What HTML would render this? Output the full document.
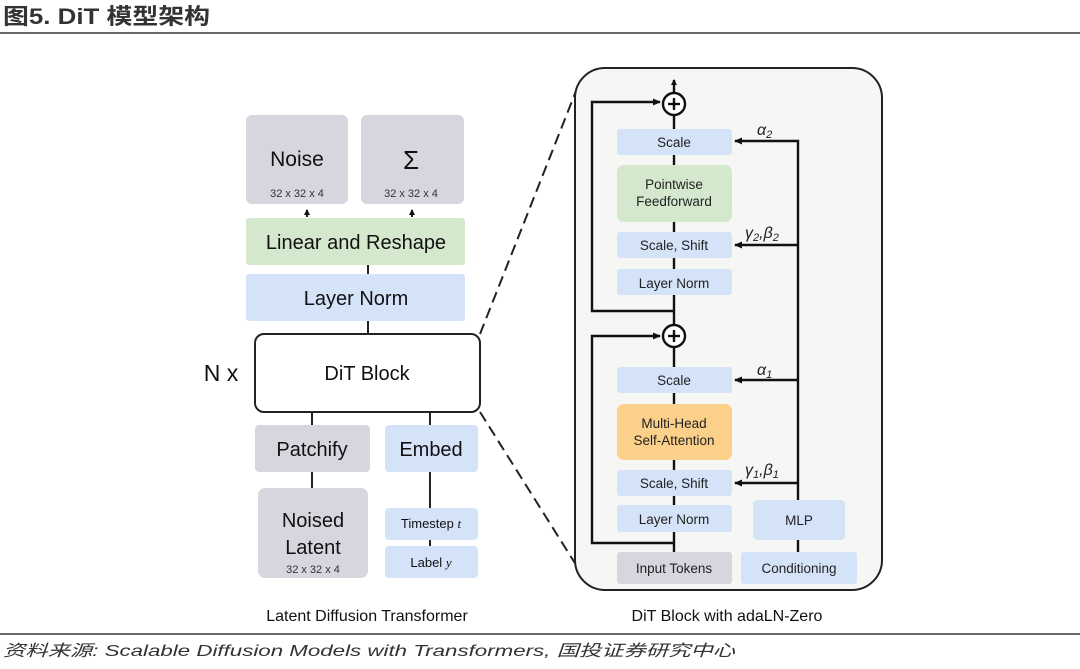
<!DOCTYPE html>
<html><head><meta charset="utf-8"><style>
html,body{margin:0;padding:0;background:#fff;}
svg{display:block;}
text{font-family:"Liberation Sans","Noto Sans CJK SC",sans-serif;}
</style></head><body>
<svg width="1080" height="669" viewBox="0 0 1080 669" xmlns="http://www.w3.org/2000/svg">
<defs>
<marker id="ah" markerWidth="8" markerHeight="8" refX="7" refY="4" orient="auto" markerUnits="userSpaceOnUse">
<path d="M0,0.5 L8,4 L0,7.5 z" fill="#111"/></marker>
<marker id="as" markerWidth="6" markerHeight="6" refX="5" refY="3" orient="auto" markerUnits="userSpaceOnUse">
<path d="M0,0 L6,3 L0,6 z" fill="#111"/></marker>
</defs>
<!-- header -->
<text x="3" y="24" font-size="22" font-weight="bold" fill="#333" textLength="207" lengthAdjust="spacingAndGlyphs">图5. DiT 模型架构</text>
<rect x="0" y="32" width="1080" height="2" fill="#6a6a6a"/>
<!-- footer -->
<rect x="0" y="633" width="1080" height="2" fill="#6a6a6a"/>
<text x="3" y="656" font-size="16" font-style="italic" fill="#333" font-family="'Liberation Mono','Noto Sans CJK SC',monospace" textLength="732" lengthAdjust="spacingAndGlyphs">资料来源: Scalable Diffusion Models with Transformers, 国投证券研究中心</text>

<!-- LEFT -->
<g stroke="#222" stroke-width="2">
<line x1="307" y1="217" x2="307" y2="210" marker-end="url(#as)"/>
<line x1="412" y1="217" x2="412" y2="210" marker-end="url(#as)"/>
<line x1="368" y1="265" x2="368" y2="274"/>
<line x1="368" y1="321" x2="368" y2="333"/>
<line x1="312" y1="412" x2="312" y2="425"/>
<line x1="430" y1="412" x2="430" y2="425"/>
<line x1="312" y1="472" x2="312" y2="488"/>
<line x1="430" y1="472" x2="430" y2="508"/>
<line x1="430" y1="540" x2="430" y2="546"/>
</g>
<rect x="246" y="115" width="102" height="89" rx="6" fill="#d6d6de"/>
<rect x="361" y="115" width="103" height="89" rx="6" fill="#d6d6de"/>
<text x="297" y="166" font-size="21" text-anchor="middle" fill="#111">Noise</text>
<text x="297" y="197" font-size="11" text-anchor="middle" fill="#333">32 x 32 x 4</text>
<text x="411" y="169" font-size="26" text-anchor="middle" fill="#111" font-family="'Liberation Serif',serif">Σ</text>
<text x="411" y="197" font-size="11" text-anchor="middle" fill="#333">32 x 32 x 4</text>
<rect x="246" y="218" width="219" height="47" rx="3" fill="#d3e8cc"/>
<text x="356" y="249" font-size="20" text-anchor="middle" fill="#111">Linear and Reshape</text>
<rect x="246" y="274" width="219" height="47" rx="3" fill="#d4e3f8"/>
<text x="356" y="305" font-size="20" text-anchor="middle" fill="#111">Layer Norm</text>
<rect x="255" y="334" width="225" height="78" rx="9" fill="#fff" stroke="#222" stroke-width="2"/>
<text x="367" y="380" font-size="20" text-anchor="middle" fill="#111">DiT Block</text>
<text x="221" y="381" font-size="23" text-anchor="middle" fill="#111">N x</text>
<rect x="255" y="425" width="115" height="47" rx="4" fill="#d6d6de"/>
<text x="312" y="456" font-size="20" text-anchor="middle" fill="#111">Patchify</text>
<rect x="385" y="425" width="93" height="47" rx="4" fill="#d4e3f8"/>
<text x="431" y="456" font-size="20" text-anchor="middle" fill="#111">Embed</text>
<rect x="258" y="488" width="110" height="90" rx="7" fill="#d6d6de"/>
<text x="313" y="527" font-size="20" text-anchor="middle" fill="#111">Noised</text>
<text x="313" y="554" font-size="20" text-anchor="middle" fill="#111">Latent</text>
<text x="313" y="573" font-size="11" text-anchor="middle" fill="#333">32 x 32 x 4</text>
<rect x="385" y="508" width="93" height="32" rx="4" fill="#d4e3f8"/>
<text x="431" y="528" font-size="13" text-anchor="middle" fill="#111">Timestep <tspan font-style="italic" font-family="'Liberation Serif',serif">t</tspan></text>
<rect x="385" y="546" width="93" height="32" rx="4" fill="#d4e3f8"/>
<text x="431" y="567" font-size="13" text-anchor="middle" fill="#111">Label <tspan font-style="italic" font-family="'Liberation Serif',serif">y</tspan></text>
<text x="367" y="621" font-size="16" text-anchor="middle" fill="#111">Latent Diffusion Transformer</text>

<!-- dashed -->
<line x1="480" y1="334" x2="578" y2="86" stroke="#222" stroke-width="2" stroke-dasharray="11,6"/>
<line x1="480" y1="412" x2="578" y2="568" stroke="#222" stroke-width="2" stroke-dasharray="11,6"/>

<!-- RIGHT container -->
<rect x="575" y="68" width="307" height="522" rx="30" fill="#f6f6f4" stroke="#222" stroke-width="2"/>
<text x="727" y="621" font-size="16" text-anchor="middle" fill="#111">DiT Block with adaLN-Zero</text>

<g stroke="#111" stroke-width="2.4" fill="none">
<line x1="674" y1="93" x2="674" y2="80" marker-end="url(#as)"/>
<line x1="674" y1="115" x2="674" y2="129"/>
<line x1="674" y1="155" x2="674" y2="165"/>
<line x1="674" y1="222" x2="674" y2="232"/>
<line x1="674" y1="258" x2="674" y2="269"/>
<line x1="674" y1="295" x2="674" y2="325"/>
<line x1="674" y1="347" x2="674" y2="367"/>
<line x1="674" y1="393" x2="674" y2="404"/>
<line x1="674" y1="460" x2="674" y2="470"/>
<line x1="674" y1="496" x2="674" y2="505"/>
<line x1="674" y1="532" x2="674" y2="552"/>
<polyline points="674,311 592,311 592,102 660,102" marker-end="url(#ah)"/>
<polyline points="674,543 592,543 592,336 660,336" marker-end="url(#ah)"/>
<line x1="798" y1="552" x2="798" y2="540"/>
<polyline points="798,500 798,141 735,141" marker-end="url(#ah)"/>
<line x1="798" y1="245" x2="735" y2="245" marker-end="url(#ah)"/>
<line x1="798" y1="380" x2="735" y2="380" marker-end="url(#ah)"/>
<line x1="798" y1="483" x2="735" y2="483" marker-end="url(#ah)"/>
<circle cx="674" cy="104" r="11" fill="#fff"/>
<line x1="668" y1="104" x2="680" y2="104"/><line x1="674" y1="98" x2="674" y2="110"/>
<circle cx="674" cy="336" r="11" fill="#fff"/>
<line x1="668" y1="336" x2="680" y2="336"/><line x1="674" y1="330" x2="674" y2="342"/>
</g>
<g font-size="13.5" text-anchor="middle" fill="#222">
<rect x="617" y="129" width="115" height="26" rx="3" fill="#d4e3f8"/>
<text x="674" y="147">Scale</text>
<rect x="617" y="165" width="115" height="57" rx="7" fill="#d3e8cc"/>
<text x="674" y="189">Pointwise</text><text x="674" y="206">Feedforward</text>
<rect x="617" y="232" width="115" height="26" rx="3" fill="#d4e3f8"/>
<text x="674" y="250">Scale, Shift</text>
<rect x="617" y="269" width="115" height="26" rx="3" fill="#d4e3f8"/>
<text x="674" y="288">Layer Norm</text>
<rect x="617" y="367" width="115" height="26" rx="3" fill="#d4e3f8"/>
<text x="674" y="385">Scale</text>
<rect x="617" y="404" width="115" height="56" rx="7" fill="#fbd08a"/>
<text x="674" y="428">Multi-Head</text><text x="674" y="445">Self-Attention</text>
<rect x="617" y="470" width="115" height="26" rx="3" fill="#d4e3f8"/>
<text x="674" y="488">Scale, Shift</text>
<rect x="617" y="505" width="115" height="27" rx="3" fill="#d4e3f8"/>
<text x="674" y="524">Layer Norm</text>
<rect x="753" y="500" width="92" height="40" rx="4" fill="#d4e3f8"/>
<text x="799" y="525">MLP</text>
<rect x="617" y="552" width="115" height="32" rx="3" fill="#d6d6de"/>
<text x="674" y="573">Input Tokens</text>
<rect x="741" y="552" width="116" height="32" rx="3" fill="#d4e3f8"/>
<text x="799" y="573">Conditioning</text>
</g>
<g font-family="'Liberation Serif',serif" font-style="italic" font-size="16" fill="#222">
<text x="757" y="135">α<tspan font-size="11" dy="3">2</tspan></text>
<text x="745" y="238">γ<tspan font-size="11" dy="3">2</tspan><tspan dy="-3">,β</tspan><tspan font-size="11" dy="3">2</tspan></text>
<text x="757" y="375">α<tspan font-size="11" dy="3">1</tspan></text>
<text x="745" y="475">γ<tspan font-size="11" dy="3">1</tspan><tspan dy="-3">,β</tspan><tspan font-size="11" dy="3">1</tspan></text>
</g>
</svg>
</body></html>
